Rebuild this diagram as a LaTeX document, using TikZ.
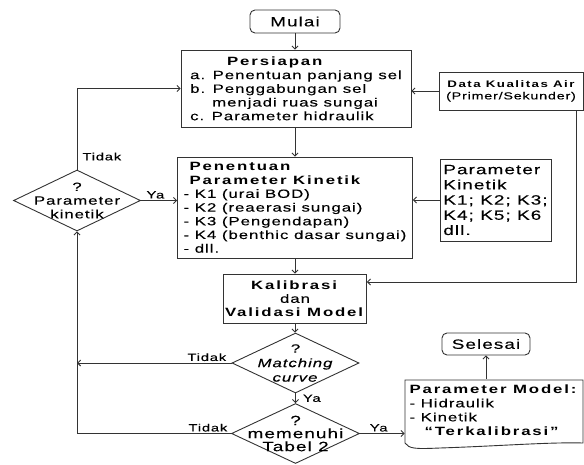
\documentclass[tikz,border=0pt]{standalone}
\usepackage{fontspec}
\setmainfont{Liberation Sans}[FakeStretch=1.4,LetterSpace=8,UprightFeatures={FakeBold=0.15},ItalicFeatures={FakeBold=0.15},BoldFeatures={LetterSpace=15.5}]
\usetikzlibrary{shapes.geometric,arrows.meta}
\definecolor{ln}{HTML}{333333}
\newcommand\myfmain{\fontsize{12}{13.7}\selectfont}
\newcommand\myfterm{\fontsize{13.5}{15}\selectfont}
\newcommand\myflab{\fontsize{10.5}{12}\selectfont}
\tikzset{
  base/.style={draw=ln, line width=0.9pt},
  box/.style={base, rectangle, inner sep=0pt, align=left, font=\myfmain},
  term/.style={base, rectangle, rounded corners=5pt, inner sep=0pt, font=\myfterm},
  dia/.style={base, diamond, inner sep=0pt},
  diatext/.style={align=center, font=\myfmain, inner sep=0pt},
  arr/.style={draw=ln, line width=0.9pt, -{Straight Barb[length=3pt,width=6pt]}},
  lab/.style={font=\myflab, inner sep=0pt, text=black}
}
\begin{document}
\begin{tikzpicture}[x=1pt,y=-1pt]
\useasboundingbox (0,0) rectangle (584,464);
% nodes
\node[term, minimum width=90pt, minimum height=23pt] (mulai) at (295,21.5) {Mulai};
\node[box, minimum width=230pt, minimum height=77pt] (pers) at (296,88.5)
  {\hspace*{37pt}\textbf{Persiapan}\\a. Penentuan panjang sel\\b. Penggabungan sel\\\hspace*{22pt}menjadi ruas sungai\\c. Parameter hidraulik};
\node[box, align=center, minimum width=144pt, minimum height=38pt, font=\fontsize{10.2}{12}\selectfont] (data) at (511,91)
  {{\fontsize{9.5}{12}\selectfont\bfseries Data Kualitas Air}\\(Primer/Sekunder)};
\node[dia, minimum width=127pt, minimum height=61pt,
  label={[diatext]center:?\\Parameter\\kinetik}] (pkin) at (77,200.5) {};
\node[box, minimum width=235pt, minimum height=101pt] (pen) at (295,207.5)
  {\hspace*{6pt}\textbf{Penentuan}\\\hspace*{6pt}\textbf{Parameter Kinetik}\\- K1 (urai BOD)\\- K2 (reaerasi sungai)\\- K3 (Pengendapan)\\- K4 (benthic dasar sungai)\\- dll.};
\node[box, minimum width=111pt, minimum height=82pt, font=\fontsize{13.5}{15.2}\selectfont] (pk) at (495.5,200)
  {Parameter\\Kinetik\\K1; K2; K3;\\K4; K5; K6\\dll.};
\node[box, align=center, minimum width=143pt, minimum height=49pt, font=\fontsize{12}{13.5}\selectfont] (kal) at (295,298.5)
  {\textbf{Kalibrasi}\\dan\\\textbf{Validasi Model}};
\node[dia, minimum width=127pt, minimum height=60pt,
  label={[diatext, font=\fontsize{12}{14.5}\selectfont]center:?\\\textit{Matching}\\\textit{curve}}] (match) at (295.5,363) {};
\node[dia, minimum width=128pt, minimum height=60pt,
  label={[diatext, font=\fontsize{13.5}{13}\selectfont]center:?\\memenuhi\\Tabel 2}] (tab) at (295.5,433.5) {};
\node[box, draw=none, minimum width=178pt, minimum height=62pt, font=\fontsize{12}{14}\selectfont] (doc) at (494,410)
  {\textbf{Parameter Model:}\\- Hidraulik\\- Kinetik\\\hspace*{15pt}\textbf{“Terkalibrasi”}};
\draw[base] (583,380) -- (405,380) -- (405,443)
  .. controls (409,449) and (416,449) .. (440,448)
  .. controls (500,446) and (550,442) .. (583,443) -- cycle;
\node[term, minimum width=88pt, minimum height=22pt] (sel) at (486,344) {Selesai};
% connectors
\draw[arr] (mulai.south) -- (mulai.south |- pers.north);
\draw[arr] (data.west) -- (data.west -| pers.east);
\draw[arr] ([xshift=-7pt]data.south east) |- ([yshift=16.5pt]kal.east);
\draw[arr] (pers.south -| pen.north) -- (pen.north);
\draw[arr] (pk.west) -- (pk.west -| pen.east);
\draw[arr] (pen.south) -- (kal.north);
\draw[arr] (kal.south) -- (kal.south |- match.north);
\draw[arr] (match.south) -- node[lab, right=7pt] {Ya} (tab.north);
\draw[arr] (pkin.north) |- node[lab, pos=0.08, right=5pt] {Tidak} (pers.west);
\draw[arr] (pkin.east) -- node[lab, pos=0.4, above=1.5pt] {Ya} (pkin.east -| pen.west);
\draw[arr] (match.west) -- node[lab, pos=0.16, above=1.5pt] {Tidak} (match.west -| pkin.south);
\draw[arr] (tab.west) -| node[lab, pos=0.075, above=1.5pt] {Tidak} (pkin.south);
\draw[arr] (tab.east) -- node[lab, pos=0.42, above=1.5pt] {Ya} (tab.east -| doc.west);
\draw[arr] (sel.south |- doc.north) -- (sel.south);
\end{tikzpicture}
\end{document}
